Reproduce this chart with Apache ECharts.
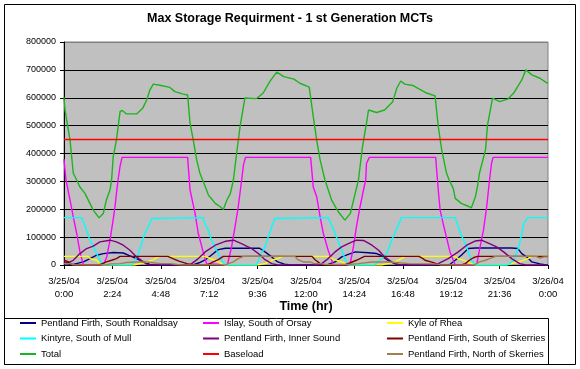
<!DOCTYPE html>
<html>
<head>
<meta charset="utf-8">
<script src="https://cdn.jsdelivr.net/npm/echarts@6/dist/echarts.min.js"></script>
<style>html,body{margin:0;padding:0;background:#fff}#c{width:580px;height:369px}</style>
</head>
<body>
<div id="c"></div>
<script>
// [hour, storage] pairs
var southRonaldsay = [[0,5000],[0.46,2000],[0.96,11000],[1.29,23000],[1.62,35000],[1.95,41000],[2.45,45000],[2.94,43000],[3.27,33000],[3.6,23000],[3.93,11000],[4.26,2000],[4.5,0],[6.4,0],[6.7,8000],[7.0,18000],[7.3,35000],[7.65,55000],[8.0,60000],[9.7,60000],[9.97,47000],[10.3,29000],[10.6,11000],[10.93,3000],[11.26,0],[13.0,0],[13.1,2000],[13.44,11000],[13.77,29000],[14.1,38000],[14.44,47000],[15.1,44000],[15.5,41000],[15.7,35000],[16.05,17000],[16.4,5000],[16.7,0],[19.1,0],[19.4,17000],[19.7,35000],[20.05,59000],[20.4,61000],[22.2,61000],[22.5,59000],[22.7,41000],[23.0,26000],[23.2,11000],[23.6,4000],[23.9,0],[24,0]];
var islay = [[0,380000],[0.05,340000],[0.1,305000],[0.3,233000],[0.46,173000],[0.63,113000],[0.79,47000],[0.96,0],[1.95,0],[2.12,29000],[2.28,89000],[2.41,149000],[2.53,209000],[2.6,257000],[2.68,305000],[2.78,355000],[2.88,386000],[6.13,386000],[6.25,269000],[6.5,185000],[6.66,113000],[6.9,47000],[7.07,5000],[7.15,0],[8.1,0],[8.31,65000],[8.48,137000],[8.64,209000],[8.81,305000],[8.9,359000],[9.0,386000],[12.23,386000],[12.36,280000],[12.53,245000],[12.7,173000],[12.86,113000],[13.1,53000],[13.36,0],[14.18,0],[14.35,65000],[14.5,137000],[14.68,209000],[14.85,269000],[14.96,305000],[15.0,365000],[15.14,386000],[18.43,386000],[18.56,269000],[18.65,197000],[18.8,149000],[19.0,89000],[19.14,47000],[19.4,0],[20.46,0],[20.6,53000],[20.8,125000],[20.96,209000],[21.1,305000],[21.2,365000],[21.28,386000],[24,386000]];
var kyleOfRhea = [[0,31000],[1.2,31000],[1.29,23000],[1.62,17000],[1.78,5000],[1.95,0],[3.5,0],[3.77,5000],[4.1,11000],[4.43,19000],[4.68,29000],[4.84,31000],[7.0,31000],[7.15,26000],[7.5,17000],[7.8,5000],[8.0,0],[9.6,0],[9.97,5000],[10.3,17000],[10.6,23000],[10.85,31000],[13.1,31000],[13.4,19000],[13.77,11000],[14.0,3000],[14.2,0],[15.75,0],[16.05,5000],[16.4,11000],[16.74,23000],[16.9,31000],[19.4,31000],[19.55,23000],[19.9,15000],[20.2,5000],[20.4,0],[21.9,0],[22.2,5000],[22.7,15000],[23.0,23000],[23.2,31000],[24,31000]];
var kintyre = [[0,170000],[0.87,170000],[0.96,155000],[1.12,125000],[1.29,89000],[1.45,65000],[1.62,41000],[1.78,17000],[1.95,0],[3.36,0],[3.52,17000],[3.69,41000],[3.85,77000],[4.0,113000],[4.18,137000],[4.35,167000],[4.43,170000],[6.9,170000],[6.98,149000],[7.15,125000],[7.32,89000],[7.57,53000],[7.82,17000],[8.0,0],[9.55,0],[9.7,29000],[9.97,65000],[10.13,101000],[10.3,137000],[10.46,167000],[10.55,170000],[13.1,170000],[13.27,143000],[13.44,113000],[13.6,83000],[13.77,53000],[13.93,23000],[14.1,0],[15.4,0],[15.67,17000],[16.0,41000],[16.25,89000],[16.4,113000],[16.58,143000],[16.74,170000],[19.4,170000],[19.55,137000],[19.7,107000],[19.9,77000],[20.05,47000],[20.2,17000],[20.4,0],[22.0,0],[22.3,17000],[22.55,65000],[22.7,113000],[22.8,149000],[23.0,170000],[24,170000]];
var innerSound = [[0,11000],[0.2,8000],[0.46,17000],[0.79,41000],[1.12,59000],[1.45,68000],[1.78,83000],[2.28,89000],[2.6,83000],[2.94,71000],[3.27,53000],[3.6,29000],[3.93,11000],[4.18,0],[6.2,0],[6.33,5000],[6.66,23000],[7.0,47000],[7.5,71000],[8.0,85000],[8.4,89000],[8.8,77000],[9.3,59000],[9.64,41000],[9.97,19000],[10.3,5000],[10.6,0],[12.6,0],[12.78,5000],[13.1,23000],[13.44,47000],[13.77,65000],[14.1,77000],[14.5,89000],[14.85,88000],[15.27,71000],[15.6,53000],[15.9,29000],[16.25,11000],[16.58,0],[18.4,0],[18.56,5000],[19.05,23000],[19.55,47000],[19.97,71000],[20.38,86000],[20.7,89000],[21.1,77000],[21.45,65000],[21.8,47000],[22.2,23000],[22.6,5000],[22.9,0],[24,0]];
var southSkerries = [[0,17000],[0.2,12000],[0.4,0],[1.7,0],[1.9,5000],[2.1,11000],[2.36,17000],[2.6,23000],[2.78,31000],[5.15,31000],[5.4,23000],[5.7,14000],[6.1,5000],[6.4,0],[7.1,0],[7.4,11000],[7.65,19000],[7.9,31000],[12.3,31000],[12.45,19000],[12.7,5000],[12.9,0],[13.9,0],[14.2,8000],[14.5,17000],[14.7,24000],[14.9,31000],[17.6,31000],[17.8,23000],[17.9,17000],[18.2,11000],[18.5,4000],[18.7,0],[19.7,0],[19.9,5000],[20.1,17000],[20.3,26000],[20.5,31000],[24,31000]];
var total = [[0,602000],[0.05,556000],[0.3,448000],[0.46,329000],[0.63,305000],[0.79,280000],[1.04,257000],[1.45,197000],[1.74,169000],[1.95,185000],[2.1,233000],[2.28,269000],[2.36,305000],[2.44,388000],[2.6,448000],[2.78,550000],[2.88,555000],[3.1,542000],[3.6,542000],[3.9,562000],[4.1,592000],[4.26,628000],[4.43,649000],[4.76,645000],[5.25,637000],[5.5,622000],[5.92,613000],[6.13,610000],[6.25,509000],[6.41,448000],[6.58,377000],[6.74,329000],[7.07,269000],[7.16,251000],[7.5,221000],[7.75,209000],[7.9,199000],[8.08,233000],[8.25,257000],[8.4,305000],[8.56,401000],[8.73,496000],[8.97,599000],[9.06,596000],[9.55,597000],[9.88,617000],[10.2,658000],[10.55,692000],[10.9,676000],[11.4,667000],[11.7,652000],[12.16,638000],[12.36,532000],[12.53,448000],[12.7,377000],[12.94,305000],[13.27,233000],[13.6,191000],[13.93,161000],[14.2,185000],[14.4,245000],[14.6,305000],[14.8,424000],[15.0,509000],[15.1,556000],[15.5,547000],[15.9,556000],[16.3,586000],[16.5,634000],[16.7,660000],[16.9,649000],[17.3,644000],[17.6,632000],[17.98,617000],[18.4,607000],[18.56,496000],[18.73,413000],[18.97,329000],[19.1,305000],[19.3,275000],[19.4,239000],[19.7,221000],[20.1,209000],[20.2,205000],[20.4,245000],[20.5,280000],[20.6,329000],[20.9,413000],[21.0,502000],[21.25,599000],[21.6,586000],[22.0,595000],[22.3,617000],[22.7,664000],[22.9,700000],[23.2,682000],[23.6,670000],[23.9,655000],[24,652000]];
var baseload = [[0,450000],[24,450000]];
var northSkerries = [[0,5000],[0.3,5000],[0.5,0],[2.1,0],[2.28,4000],[2.78,5000],[3.1,9000],[3.6,11000],[4.1,11000],[4.43,8000],[4.76,5000],[5.26,5000],[5.6,2000],[5.9,0],[8.0,0],[8.15,5000],[8.4,11000],[8.64,23000],[8.9,31000],[11.45,31000],[11.6,19000],[11.86,11000],[12.2,11000],[12.4,5000],[12.7,5000],[13.0,2000],[14.1,2000],[14.6,5000],[15.25,11000],[16.1,11000],[16.6,8000],[17.1,5000],[18.15,4000],[18.5,3000],[18.7,0],[20.3,0],[20.4,2000],[20.6,11000],[20.9,17000],[21.1,23000],[21.4,31000],[23.4,31000],[23.6,25000],[23.8,29000],[24,29000]];

var seriesNames = ['Pentland Firth, South Ronaldsay','Islay, South of Orsay','Kyle of Rhea','Kintyre, South of Mull','Pentland Firth, Inner Sound','Pentland Firth, South of Skerries','Total','Baseload','Pentland Firth, North of Skerries'];
var seriesData = [southRonaldsay, islay, kyleOfRhea, kintyre, innerSound, southSkerries, total, baseload, northSkerries];
var seriesColors = ['#000080','#FF00FF','#FFFF00','#00FFFF','#800080','#800000','#1EB41E','#FF0000','#A08050'];
var yTicks = [0,100000,200000,300000,400000,500000,600000,700000,800000];

var FONT = 'Arial, "Liberation Sans", sans-serif';
var chart = echarts.init(document.getElementById('c'), null, {renderer:'canvas'});

function fmtX(v){
  var m = Math.round(v*60);
  if (m >= 1440) return '3/26/04\n0:00';
  var mm = m % 60;
  return '3/25/04\n' + Math.floor(m/60) + ':' + (mm < 10 ? '0' : '') + mm;
}

var series = seriesNames.map(function(n, i){
  return {
    name: n, type: 'line', data: seriesData[i], symbol: 'none', showSymbol: false,
    lineStyle: {color: seriesColors[i], width: 1.4}, itemStyle: {color: seriesColors[i]},
    emphasis: {disabled: true}, z: 3 + i * 0.01
  };
});

function legendCol(left, names){
  return {
    left: left, top: 317, orient: 'vertical', padding: 0, itemGap: 3.5,
    icon: 'rect', itemWidth: 16, itemHeight: 2, selectedMode: false,
    textStyle: {fontFamily: FONT, fontSize: 9.5, color: '#000', lineHeight: 12},
    data: names
  };
}

chart.setOption({
  animation: false,
  backgroundColor: '#fff',
  title: {
    text: 'Max Storage Requirment - 1 st Generation MCTs',
    left: 'center', top: 12, padding: 0,
    textStyle: {fontFamily: FONT, fontSize: 12.5, fontWeight: 'bold', color: '#000'}
  },
  grid: {left: 64, right: 32, top: 42, bottom: 104, show: true,
    backgroundColor: '#C0C0C0', borderColor: '#808080', borderWidth: 1},
  xAxis: {
    type: 'value', min: 0, max: 24, interval: 2.4,
    name: 'Time (hr)', nameLocation: 'middle', nameGap: 35, nameMoveOverlap: false,
    nameTextStyle: {fontFamily: FONT, fontSize: 12.5, fontWeight: 'bold', color: '#000'},
    axisLine: {show: true, lineStyle: {color: '#000', width: 1}},
    axisTick: {show: true, inside: false, length: 4, lineStyle: {color: '#000'}},
    axisLabel: {formatter: fmtX, fontFamily: FONT, fontSize: 9.5, color: '#000', lineHeight: 13, margin: 10},
    splitLine: {show: false}
  },
  yAxis: {
    type: 'value', min: yTicks[0], max: yTicks[yTicks.length-1], interval: yTicks[1]-yTicks[0],
    axisLine: {show: true, lineStyle: {color: '#000', width: 1}},
    axisTick: {show: true, inside: false, length: 4, lineStyle: {color: '#000'}},
    axisLabel: {formatter: function(v){ return String(Math.round(v)); }, fontFamily: FONT, fontSize: 9, color: '#000', margin: 8},
    splitLine: {show: true, lineStyle: {color: ['#000','#000','#000','#000','#000','#000','#000','#000','#808080'], width: 1}}
  },
  legend: [
    legendCol(20, [seriesNames[0], seriesNames[3], seriesNames[6]]),
    legendCol(203, [seriesNames[1], seriesNames[4], seriesNames[7]]),
    legendCol(387, [seriesNames[2], seriesNames[5], seriesNames[8]])
  ],
  graphic: [
    {type: 'rect', shape: {x: 4.5, y: 4.5, width: 571, height: 360}, style: {fill: 'none', stroke: '#000', lineWidth: 1}, silent: true, z: 100},
    {type: 'rect', shape: {x: 4.5, y: 318.5, width: 544, height: 46}, style: {fill: 'none', stroke: '#000', lineWidth: 1}, silent: true, z: 100}
  ],
  series: series
});
</script>
</body>
</html>
